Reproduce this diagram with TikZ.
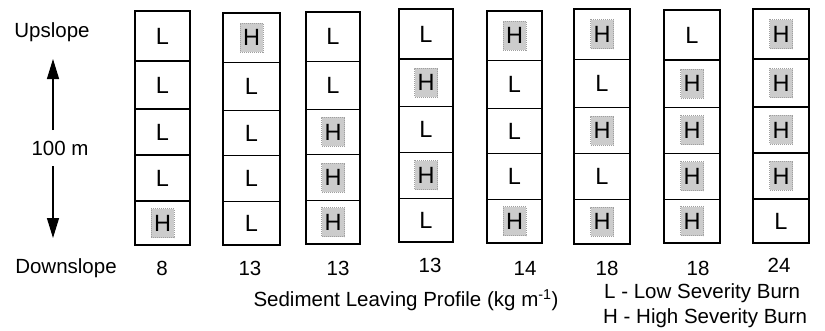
\documentclass[tikz,border=0pt]{standalone}
\usepackage{fontspec}
\setmainfont{Liberation Sans}
\usetikzlibrary{arrows.meta}
\begin{document}
\begin{tikzpicture}[x=1pt,y=-1pt,
  txt/.style={font=\fontsize{20.5}{24}\selectfont, inner sep=0pt},
  celltxt/.style={font=\fontsize{23.5}{26}\selectfont, inner sep=0pt},
  cell/.style={draw, line width=1.3pt, inner sep=0pt},
  hmark/.style={fill=gray!40, draw=gray!75, densely dotted, line width=1pt, inner sep=0pt, minimum width=23pt, minimum height=29pt},
  scalearrow/.style={line width=1.3pt, -{Triangle[length=20pt,width=12pt]}}
]
\useasboundingbox (0,0) rectangle (825,330);
% left labels
\node[txt] (up) at (52,32) {Upslope};
\node[txt] (dist) at (60,148) {100 m};
\node[txt] (down) at (66,268) {Downslope};
\coordinate (upbase) at (53,130);
\coordinate (uptip) at (53,59);
\coordinate (downbase) at (53,166);
\coordinate (downtip) at (53,238);
\draw[scalearrow] (upbase) -- (uptip);
\draw[scalearrow] (downbase) -- (downtip);
% columns
\foreach \i/\l/\r/\t/\b/\cells/\num/\nx/\ny in {
  1/135/190/11/245/{L,L,L,L,H}/8/162/268,
  2/223/280/13/245/{H,L,L,L,L}/13/250/268,
  3/306/360/12/244/{L,L,H,H,H}/13/338/268,
  4/399/453/9/242/{L,H,L,H,L}/13/430/265,
  5/487/542/11/243/{H,L,L,L,H}/14/525/268,
  6/574/630/9/244/{H,L,H,L,H}/18/607/268,
  7/664/720/10/243/{L,H,H,H,H}/18/698/268,
  8/753/809/9/243/{H,H,H,H,L}/24/779/265}{
  \foreach \c [count=\j] in \cells {
    \pgfmathsetmacro\fa{{0,.214,.419,.615,.812,1}[\j-1]}
    \pgfmathsetmacro\fb{{0,.214,.419,.615,.812,1}[\j]}
    \pgfmathsetmacro\ya{\t+\fa*(\b-\t)}
    \pgfmathsetmacro\yb{\t+\fb*(\b-\t)}
    \pgfmathsetmacro\xm{(\l+\r)/2}
    \pgfmathsetmacro\ym{(\ya+\yb)/2}
    \pgfmathsetmacro\w{\r-\l}
    \pgfmathsetmacro\h{\yb-\ya}
    \node[cell, minimum width=\w pt, minimum height=\h pt] (c\i-\j) at (\xm,\ym) {};
    \if\c H
      \node[hmark] (m\i-\j) at (c\i-\j.center) {};
    \fi
    \node[celltxt] (t\i-\j) at (c\i-\j.center) {\c};
  }
  \node[txt] (n\i) at (\nx,\ny) {\num};
}
\node[txt] (axis) at (406,300) {Sediment Leaving Profile (kg m\textsuperscript{-1})};
\node[txt, anchor=west] (legL) at (604,293) {L - Low Severity Burn};
\node[txt, anchor=west] (legH) at (603,318) {H - High Severity Burn};
\end{tikzpicture}
\end{document}
